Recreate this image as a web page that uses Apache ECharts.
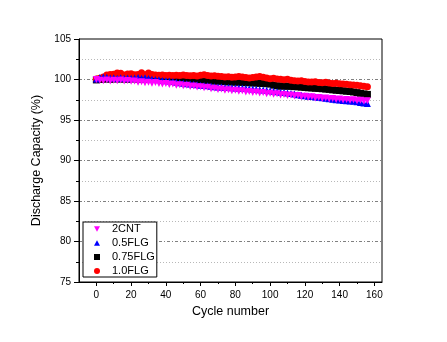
<!DOCTYPE html>
<html>
<head>
<meta charset="utf-8">
<script src="https://cdn.jsdelivr.net/npm/echarts@6/dist/echarts.min.js"></script>
<style>html,body{margin:0;padding:0;background:#fff;}#c{width:447px;height:342px;}</style>
</head>
<body>
<div id="c"></div>
<script>
// ---- data ----
const cycles = [0,2,4,6,8,10,12,14,16,18,20,22,24,26,28,30,32,34,36,38,40,42,44,46,48,50,52,54,56,58,60,62,64,66,68,70,72,74,76,78,80,82,84,86,88,90,92,94,96,98,100,102,104,106,108,110,112,114,116,118,120,122,124,126,128,130,132,134,136,138,140,142,144,146,148,150,152,154,156];
const cnt2 = [100.00,99.92,99.85,99.95,99.82,99.90,99.86,99.93,99.80,99.88,99.78,
  99.82,99.65,99.72,99.60,99.66,99.55,99.62,99.50,99.45,99.52,
  99.38,99.44,99.30,99.36,99.22,99.28,99.15,99.20,99.06,99.12,
  98.98,99.04,98.86,98.92,98.76,98.82,98.68,98.74,98.60,98.66,
  98.55,98.60,98.46,98.52,98.40,98.45,98.32,98.38,98.25,98.30,
  98.18,98.24,98.10,98.16,98.04,98.08,97.96,98.02,97.88,97.94,
  97.80,97.86,97.72,97.78,97.66,97.72,97.60,97.66,97.54,97.60,
  97.48,97.54,97.44,97.50,97.38,97.44,97.32,97.38];
const flg05 = [100.05,100.25,100.30,100.28,100.18,100.22,100.15,100.22,100.16,100.20,100.14,
  100.18,100.26,100.16,100.22,100.12,100.06,100.00,99.96,99.88,99.84,
  99.80,99.74,99.66,99.60,99.54,99.48,99.44,99.40,99.36,99.30,
  99.26,99.22,99.16,99.12,99.08,99.06,99.02,99.00,98.98,98.96,
  98.94,98.92,98.90,98.86,98.84,98.80,98.74,98.70,98.66,98.62,
  98.56,98.50,98.44,98.40,98.34,98.28,98.20,98.12,98.06,98.00,
  97.94,97.90,97.84,97.80,97.74,97.68,97.62,97.56,97.50,97.46,
  97.42,97.38,97.34,97.30,97.24,97.16,97.10,97.04];
const flg075 = [99.95,100.02,100.05,100.08,100.04,100.06,100.10,100.05,100.08,100.04,100.07,
  100.10,100.05,100.08,100.04,100.06,100.10,100.06,100.08,100.04,100.02,
  100.06,100.00,100.04,99.98,100.02,99.96,99.98,99.92,99.95,99.90,
  99.86,99.90,99.84,99.80,99.78,99.82,99.74,99.70,99.72,99.66,
  99.70,99.64,99.60,99.62,99.56,99.58,99.52,99.50,99.48,99.44,
  99.30,99.22,99.18,99.20,99.16,99.18,99.12,99.10,99.06,99.02,
  98.98,98.96,98.92,98.90,98.86,98.82,98.78,98.72,98.68,98.64,
  98.60,98.56,98.52,98.46,98.38,98.30,98.22,98.16];
const flg10 = [100.05,100.15,100.30,100.55,100.62,100.66,100.80,100.78,100.56,100.68,100.72,
  100.58,100.62,100.82,100.60,100.80,100.62,100.55,100.52,100.56,100.50,
  100.54,100.48,100.52,100.50,100.55,100.48,100.46,100.50,100.44,100.52,
  100.58,100.48,100.42,100.46,100.40,100.36,100.32,100.34,100.28,100.30,
  100.38,100.32,100.24,100.20,100.26,100.30,100.36,100.28,100.18,100.10,
  100.14,100.06,100.02,99.98,100.02,99.92,99.86,99.80,99.84,99.76,
  99.70,99.68,99.72,99.64,99.60,99.66,99.56,99.50,99.54,99.48,
  99.44,99.40,99.36,99.32,99.28,99.22,99.16,99.12];
const seriesNames = ['2CNT','0.5FLG','0.75FLG','1.0FLG'];
const xMajorTicks = [0,20,40,60,80,100,120,140,160];
const xMinorTicks = [10,30,50,70,90,110,130,150];

// ---- chart ----
const font = 'Arial, "Liberation Sans", sans-serif';
const pts = ys => cycles.map((c, i) => [c, ys[i]]);
const downTri = 'path://M0,0L10,0L5,9Z';
const upTri = 'path://M5,0L10,9L0,9Z';
const chart = echarts.init(document.getElementById('c'), null, {renderer: 'canvas'});
const mk = (name, data, symbol, color, size) => ({
  name, type: 'scatter', data, symbol, symbolSize: size,
  itemStyle: {color, opacity: 1}, emphasis: {disabled: true}, silent: true
});
chart.setOption({
  animation: false,
  backgroundColor: '#fff',
  grid: {left: 79, top: 39, width: 303, height: 243, show: true, borderColor: '#000', borderWidth: 1},
  legend: {
    orient: 'vertical', left: 83, top: 222,
    data: seriesNames,
    itemWidth: 6, itemHeight: 6, itemGap: 2,
    padding: [1, 2, 0, 11],
    borderColor: '#000', borderWidth: 1, backgroundColor: '#fff', borderRadius: 0,
    textStyle: {fontSize: 11, fontFamily: font, color: '#000', lineHeight: 12, padding: [0, 0, 0, 7]},
    z: 10
  },
  xAxis: [{
    type: 'value', min: -10, max: 164.4,
    axisLine: {onZero: false, lineStyle: {color: '#000', width: 1}},
    axisTick: {customValues: xMajorTicks, length: 4, lineStyle: {color: '#000'}},
    axisLabel: {customValues: xMajorTicks, color: '#000', fontSize: 10, fontFamily: font, margin: 8},
    splitLine: {show: false},
    name: 'Cycle number', nameLocation: 'middle', nameGap: 22,
    nameTextStyle: {fontSize: 12.5, fontFamily: font, color: '#000'}
  }, {
    type: 'value', min: -10, max: 164.4, position: 'bottom',
    axisLine: {show: false, onZero: false},
    axisTick: {customValues: xMinorTicks, length: 2, lineStyle: {color: '#000'}},
    axisLabel: {show: false},
    splitLine: {show: false}
  }],
  yAxis: {
    type: 'value', min: 75, max: 105, interval: 5,
    axisLine: {show: true, onZero: false, lineStyle: {color: '#000', width: 1}},
    axisTick: {show: true, length: 5, lineStyle: {color: '#000'}},
    minorTick: {show: true, splitNumber: 2, length: 3, lineStyle: {color: '#000'}},
    axisLabel: {color: '#000', fontSize: 10, fontFamily: font, margin: 8},
    splitLine: {show: true, showMinLine: false, showMaxLine: false, lineStyle: {color: '#808080', width: 1, type: [3, 2, 1, 2]}},
    minorSplitLine: {show: true, lineStyle: {color: '#b8b8b8', width: 1, type: [1, 2]}},
    name: 'Discharge Capacity (%)', nameLocation: 'middle', nameGap: 26,
    nameTextStyle: {fontSize: 12.5, fontFamily: font, color: '#000'}
  },
  series: [
    mk('0.75FLG', pts(flg075), 'rect', '#000000', 7),
    mk('1.0FLG', pts(flg10), 'circle', '#ff0000', 7),
    mk('0.5FLG', pts(flg05), upTri, '#0000ff', 7),
    mk('2CNT', pts(cnt2), downTri, '#ff00ff', 7)
  ]
});
</script>
</body>
</html>
